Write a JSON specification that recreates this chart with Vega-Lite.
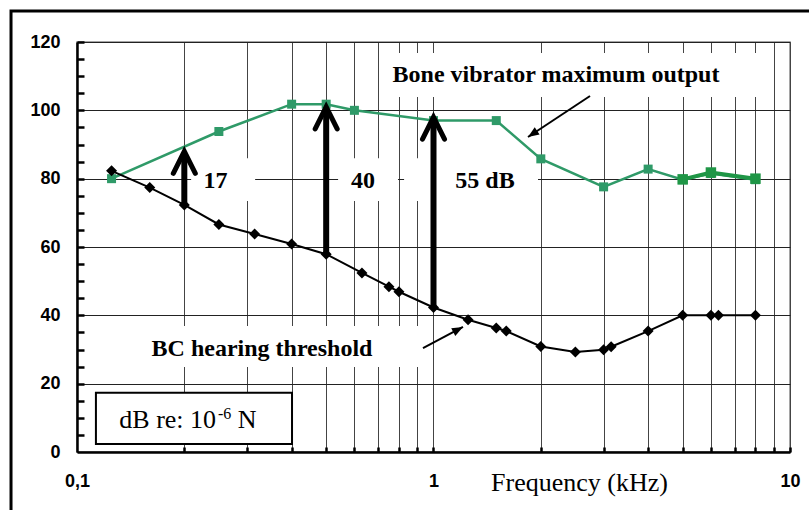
{
  "$schema": "https://vega.github.io/schema/vega-lite/v6.json",
  "width": 713,
  "height": 410,
  "autosize": {"type": "none"},
  "padding": {"left": 77, "top": 42, "right": 19, "bottom": 58},
  "background": "white",
  "config": {
    "view": {"stroke": "#888888", "strokeWidth": 1.5},
    "font": "Liberation Sans"
  },
  "resolve": {"scale": {"x": "shared", "y": "shared"}, "axis": {"x": "independent", "y": "independent"}},
  "datasets": {
    "bc": [
      {"f": 0.125, "db": 82.3}, {"f": 0.16, "db": 77.4}, {"f": 0.2, "db": 72.3},
      {"f": 0.25, "db": 66.6}, {"f": 0.315, "db": 63.8}, {"f": 0.4, "db": 60.9},
      {"f": 0.5, "db": 57.9}, {"f": 0.63, "db": 52.4}, {"f": 0.75, "db": 48.4},
      {"f": 0.8, "db": 46.9}, {"f": 1.0, "db": 42.3}, {"f": 1.25, "db": 38.7},
      {"f": 1.5, "db": 36.3}, {"f": 1.6, "db": 35.4}, {"f": 2.0, "db": 30.9},
      {"f": 2.5, "db": 29.3}, {"f": 3.0, "db": 29.9}, {"f": 3.15, "db": 30.8},
      {"f": 4.0, "db": 35.4}, {"f": 5.0, "db": 40}, {"f": 6.0, "db": 40},
      {"f": 6.3, "db": 40}, {"f": 8.0, "db": 40}
    ],
    "bv": [
      {"f": 0.125, "db": 80}, {"f": 0.25, "db": 93.8}, {"f": 0.4, "db": 101.8},
      {"f": 0.5, "db": 101.8}, {"f": 0.6, "db": 100}, {"f": 1.0, "db": 97},
      {"f": 1.5, "db": 97}, {"f": 2.0, "db": 85.8}, {"f": 3.0, "db": 77.6},
      {"f": 4.0, "db": 82.8}, {"f": 5.0, "db": 79.7}, {"f": 6.0, "db": 81.5},
      {"f": 8.0, "db": 79.7}
    ],
    "bv2": [
      {"f": 5.0, "db": 79.8}, {"f": 6.0, "db": 81.8}, {"f": 8.0, "db": 80}
    ],
    "boxes": [
      {"x1": 0.755, "x2": 8.79, "y1": 103.9, "y2": 116.8},
      {"x1": 0.209, "x2": 0.316, "y1": 73.5, "y2": 86},
      {"x1": 0.540, "x2": 0.795, "y1": 73.5, "y2": 86},
      {"x1": 0.827, "x2": 1.964, "y1": 73.5, "y2": 86},
      {"x1": 0.150, "x2": 0.916, "y1": 24.9, "y2": 36.9}
    ],
    "frame": [{"x1": 0.0653, "x2": 12, "y1": -20, "y2": 129.1}],
    "unitbox": [{"x1": 0.113, "x2": 0.401, "y1": 2.34, "y2": 17.35}],
    "arrows": [
      {"f": 0.2, "from": 72.3, "to": 88, "top": 87.4},
      {"f": 0.5, "from": 57.9, "to": 101, "top": 100.4},
      {"f": 1.0, "from": 42.3, "to": 98, "top": 97.4}
    ],
    "pointer_bv": [{"x1": 2.748, "y1": 104.2, "x2": 1.841, "y2": 92.2}],
    "pointer_bc": [{"x1": 0.9344, "y1": 30.4, "x2": 1.2098, "y2": 36.6}],
    "labels": [
      {"text": "Bone vibrator maximum output", "x": 2.206, "y": 108.3},
      {"text": "17", "x": 0.2446, "y": 77.3},
      {"text": "40", "x": 0.634, "y": 77.3},
      {"text": "55 dB", "x": 1.395, "y": 77.3},
      {"text": "BC hearing threshold", "x": 0.3303, "y": 28.1}
    ],
    "unit_main": [{"text": "dB re: 10", "x": 0.2455, "y": 6.94}],
    "unit_sup": [{"text": "-6", "x": 0.2486, "y": 9.66}],
    "unit_n": [{"text": "N", "x": 0.2824, "y": 6.94}]
  },
  "layer": [
    {
      "data": {"name": "frame"},
      "mark": {"type": "rect", "fill": null, "fillOpacity": 0, "stroke": "black", "strokeWidth": 3},
      "encoding": {
        "x": {"field": "x1", "type": "quantitative", "scale": {"type": "log", "domain": [0.1, 10], "nice": false}, "axis": null},
        "x2": {"field": "x2"},
        "y": {"field": "y1", "type": "quantitative", "scale": {"domain": [0, 120], "nice": false, "zero": false}, "axis": null},
        "y2": {"field": "y2"}
      }
    },
    {
      "data": {"name": "boxes"},
      "mark": {"type": "rect", "fill": "white", "stroke": null},
      "encoding": {
        "x": {"field": "x1", "type": "quantitative", "axis": null},
        "x2": {"field": "x2"},
        "y": {"field": "y1", "type": "quantitative", "axis": null},
        "y2": {"field": "y2"}
      }
    },
    {
      "data": {"name": "unitbox"},
      "mark": {"type": "rect", "fill": "white", "stroke": "black", "strokeWidth": 2},
      "encoding": {
        "x": {"field": "x1", "type": "quantitative", "axis": null},
        "x2": {"field": "x2"},
        "y": {"field": "y1", "type": "quantitative", "axis": null},
        "y2": {"field": "y2"}
      }
    },
    {
      "data": {"name": "bv"},
      "mark": {"type": "line", "color": "#2f9a68", "strokeWidth": 2.5},
      "encoding": {
        "x": {"field": "f", "type": "quantitative", "axis": null},
        "y": {"field": "db", "type": "quantitative", "axis": null}
      }
    },
    {
      "data": {"name": "bv2"},
      "mark": {"type": "line", "color": "#1f9646", "strokeWidth": 4},
      "encoding": {
        "x": {"field": "f", "type": "quantitative", "axis": null},
        "y": {"field": "db", "type": "quantitative", "axis": null}
      }
    },
    {
      "data": {"name": "bv"},
      "mark": {"type": "point", "shape": "square", "filled": true, "color": "#2f9a68", "size": 81, "opacity": 1},
      "encoding": {
        "x": {"field": "f", "type": "quantitative", "axis": null},
        "y": {"field": "db", "type": "quantitative", "axis": null}
      }
    },
    {
      "data": {"name": "bv2"},
      "mark": {"type": "point", "shape": "square", "filled": true, "color": "#1f9646", "size": 110, "opacity": 1},
      "encoding": {
        "x": {"field": "f", "type": "quantitative", "axis": null},
        "y": {"field": "db", "type": "quantitative", "axis": null}
      }
    },
    {
      "data": {"name": "bc"},
      "mark": {"type": "line", "color": "black", "strokeWidth": 2},
      "encoding": {
        "x": {
          "field": "f", "type": "quantitative",
          "axis": {
            "values": [0.1, 0.2, 0.3, 0.4, 0.5, 0.6, 0.7, 0.8, 0.9, 1, 2, 3, 4, 5, 6, 7, 8, 9, 10],
            "labelExpr": "datum.value == 0.1 ? '0,1' : (datum.value == 1 ? '1' : (datum.value == 10 ? '10' : ''))",
            "grid": true, "gridColor": "#444444", "gridWidth": 1,
            "domainColor": "black", "domainWidth": 2.5,
            "ticks": true, "tickSize": 0, "tickWidth": 0,
            "labelFont": "Liberation Sans", "labelFontWeight": "bold", "labelFontSize": 18, "labelColor": "black",
            "labelPadding": 29, "labelBaseline": "middle",
            "labelOverlap": false, "labelFlush": false, "labelBound": false,
            "title": "Frequency (kHz)", "titleFont": "Liberation Serif", "titleFontWeight": "normal",
            "titleFontSize": 26, "titleColor": "black", "titleX": 502, "titleY": 38.7,
            "titleAlign": "center", "titleBaseline": "alphabetic", "titleAngle": 0,
            "zindex": 0
          }
        },
        "y": {
          "field": "db", "type": "quantitative",
          "axis": {
            "values": [0, 20, 40, 60, 80, 100, 120],
            "grid": true, "gridColor": "#222222", "gridWidth": 1,
            "domainColor": "black", "domainWidth": 2.5,
            "ticks": true, "tickSize": 0, "tickWidth": 0,
            "labelFont": "Liberation Sans", "labelFontWeight": "bold", "labelFontSize": 18, "labelColor": "black",
            "labelPadding": 17, "labelOverlap": false, "labelFlush": false, "labelBound": false,
            "title": null, "zindex": 0
          }
        }
      }
    },
    {
      "data": {"name": "bc"},
      "mark": {"type": "point", "shape": "diamond", "filled": true, "color": "black", "size": 121, "opacity": 1},
      "encoding": {
        "x": {
          "field": "f", "type": "quantitative",
          "axis": {
            "orient": "top", "offset": -410,
            "values": [0.2, 0.3, 0.4, 0.5, 0.6, 0.7, 0.8, 0.9, 1, 2, 3, 4, 5, 6, 7, 8, 9, 10],
            "grid": false, "domain": false, "labels": false, "title": null,
            "ticks": true, "tickColor": "black", "tickSize": 5, "tickWidth": 2.5,
            "zindex": 0
          }
        },
        "y": {
          "field": "db", "type": "quantitative",
          "axis": {
            "orient": "right", "offset": -713,
            "values": [5, 10, 15, 20, 25, 30, 35, 40, 45, 50, 55, 60, 65, 70, 75, 80, 85, 90, 95, 100, 105, 110, 115, 120],
            "grid": false, "domain": false, "labels": false, "title": null,
            "ticks": true, "tickColor": "black", "tickSize": 7, "tickWidth": 2.5,
            "zindex": 0
          }
        }
      }
    },
    {
      "data": {"name": "arrows"},
      "mark": {"type": "rule", "color": "black", "strokeWidth": 6},
      "encoding": {
        "x": {"field": "f", "type": "quantitative", "axis": null},
        "y": {"field": "from", "type": "quantitative", "axis": null},
        "y2": {"field": "top"}
      }
    },
    {
      "data": {"name": "arrows"},
      "mark": {"type": "point", "shape": "M -0.5 1 L 0 0 L 0.5 1", "filled": false, "stroke": "black", "strokeWidth": 5, "strokeCap": "round", "strokeJoin": "miter", "size": 1936, "opacity": 1},
      "encoding": {
        "x": {"field": "f", "type": "quantitative", "axis": null},
        "y": {"field": "to", "type": "quantitative", "axis": null}
      }
    },
    {
      "data": {"name": "pointer_bv"},
      "mark": {"type": "rule", "color": "black", "strokeWidth": 2},
      "encoding": {
        "x": {"field": "x1", "type": "quantitative", "axis": null},
        "x2": {"field": "x2"},
        "y": {"field": "y1", "type": "quantitative", "axis": null},
        "y2": {"field": "y2"}
      }
    },
    {
      "data": {"name": "pointer_bv"},
      "mark": {"type": "point", "shape": "M 0 0 L 0.4 1 L -0.4 1 Z", "filled": true, "color": "black", "size": 484, "angle": 236.5, "opacity": 1},
      "encoding": {
        "x": {"field": "x2", "type": "quantitative", "axis": null},
        "y": {"field": "y2", "type": "quantitative", "axis": null}
      }
    },
    {
      "data": {"name": "pointer_bc"},
      "mark": {"type": "rule", "color": "black", "strokeWidth": 2},
      "encoding": {
        "x": {"field": "x1", "type": "quantitative", "axis": null},
        "x2": {"field": "x2"},
        "y": {"field": "y1", "type": "quantitative", "axis": null},
        "y2": {"field": "y2"}
      }
    },
    {
      "data": {"name": "pointer_bc"},
      "mark": {"type": "point", "shape": "M 0 0 L 0.4 1 L -0.4 1 Z", "filled": true, "color": "black", "size": 484, "angle": 62.3, "opacity": 1},
      "encoding": {
        "x": {"field": "x2", "type": "quantitative", "axis": null},
        "y": {"field": "y2", "type": "quantitative", "axis": null}
      }
    },
    {
      "data": {"name": "labels"},
      "mark": {"type": "text", "font": "Liberation Serif", "fontWeight": "bold", "fontSize": 24, "align": "center", "baseline": "alphabetic", "color": "black"},
      "encoding": {
        "x": {"field": "x", "type": "quantitative", "axis": null},
        "y": {"field": "y", "type": "quantitative", "axis": null},
        "text": {"field": "text"}
      }
    },
    {
      "data": {"name": "unit_main"},
      "mark": {"type": "text", "font": "Liberation Serif", "fontSize": 26, "align": "right", "baseline": "alphabetic", "color": "black"},
      "encoding": {
        "x": {"field": "x", "type": "quantitative", "axis": null},
        "y": {"field": "y", "type": "quantitative", "axis": null},
        "text": {"field": "text"}
      }
    },
    {
      "data": {"name": "unit_sup"},
      "mark": {"type": "text", "font": "Liberation Serif", "fontSize": 16, "align": "left", "baseline": "alphabetic", "color": "black"},
      "encoding": {
        "x": {"field": "x", "type": "quantitative", "axis": null},
        "y": {"field": "y", "type": "quantitative", "axis": null},
        "text": {"field": "text"}
      }
    },
    {
      "data": {"name": "unit_n"},
      "mark": {"type": "text", "font": "Liberation Serif", "fontSize": 26, "align": "left", "baseline": "alphabetic", "color": "black"},
      "encoding": {
        "x": {"field": "x", "type": "quantitative", "axis": null},
        "y": {"field": "y", "type": "quantitative", "axis": null},
        "text": {"field": "text"}
      }
    }
  ]
}
